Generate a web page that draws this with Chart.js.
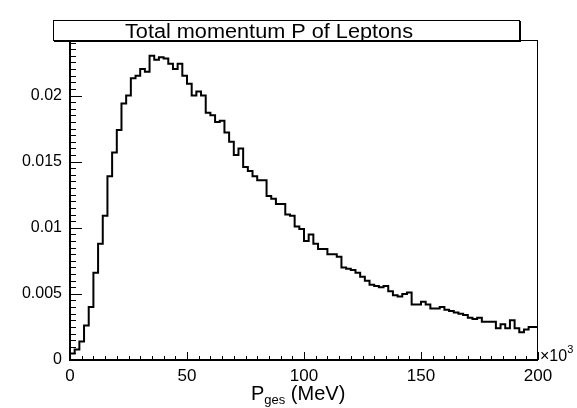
<!DOCTYPE html>
<html>
<head>
<meta charset="utf-8">
<script src="https://cdn.jsdelivr.net/npm/chart.js@4/dist/chart.umd.min.js"></script>
<style>
  body { margin: 0; background: #fff; }
  #wrap { width: 577px; height: 408px; }
</style>
</head>
<body>
<div id="wrap"><canvas id="histChart" width="577" height="408"></canvas></div>
<script>
// histogram of total lepton momentum, 100 bins from 0 to 200 (x10^3 MeV)
const binWidth = 2;
const counts = [
  0.0005, 0.0008, 0.0014, 0.0026, 0.0040, 0.0066, 0.0088, 0.0109, 0.0139, 0.0157,
  0.0174, 0.0194, 0.0200, 0.0213, 0.0215, 0.0220, 0.0218, 0.0230, 0.0227, 0.0229,
  0.0228, 0.0224, 0.0220, 0.0224, 0.0215, 0.0209, 0.0200, 0.0203, 0.0200, 0.0187,
  0.0185, 0.0180, 0.0181, 0.0172, 0.0165, 0.0155, 0.0160, 0.0146, 0.0143, 0.0139,
  0.0136, 0.0136, 0.0124, 0.0122, 0.0118, 0.0118, 0.0110, 0.0109, 0.0101, 0.0099,
  0.0090, 0.0095, 0.0088, 0.0084, 0.0084, 0.0080, 0.0080, 0.0078, 0.0070, 0.0069,
  0.0068, 0.0066, 0.0063, 0.0060, 0.0057, 0.0056, 0.0055, 0.0056, 0.0052, 0.0049,
  0.0048, 0.0050, 0.0051, 0.0042, 0.0042, 0.0044, 0.0042, 0.0039, 0.0039, 0.0040,
  0.0038, 0.0037, 0.0036, 0.0035, 0.0034, 0.0032, 0.0031, 0.0032, 0.0029, 0.0029,
  0.0029, 0.0024, 0.0027, 0.0024, 0.0030, 0.0024, 0.0021, 0.0023, 0.0025, 0.0025
];
const xTicks = [0, 50, 100, 150, 200];
const yTicks = [0, 0.005, 0.01, 0.015, 0.02];
const xMin = 0, xMax = 200;
const yMin = 0, yMax = 0.0242;
const titleText = 'Total momentum P of Leptons';

const FONT = '"Liberation Sans", Arial, Helvetica, sans-serif';

// step points at bin left edges, plus closing point at the right edge
var points = counts.map((v, i) => ({ x: i * binWidth, y: v }));
points.push({ x: counts.length * binWidth, y: counts[counts.length - 1] });

const rootStyle = {
    id: 'rootStyle',
    afterDraw(chart) {
        const ctx = chart.ctx;
        const a = chart.chartArea;
        const xs = chart.scales.x;
        const ys = chart.scales.y;
        ctx.save();
        ctx.strokeStyle = '#000';

        // frame
        ctx.lineWidth = 1;
        ctx.strokeRect(a.left + 0.5, a.top + 0.5, a.right - a.left - 1, a.bottom - a.top);
        ctx.lineWidth = 2;
        ctx.beginPath();
        ctx.moveTo(a.left, a.top);
        ctx.lineTo(a.left, a.bottom);
        ctx.lineTo(a.right, a.bottom);
        ctx.stroke();

        // inward ticks
        ctx.lineWidth = 1;
        ctx.beginPath();
        for (let v = xMin; v <= xMax + 1e-9; v += 5) {
            const px = Math.round(xs.getPixelForValue(v)) + 0.5;
            const len = (Math.abs(v % 50) < 1e-9) ? 8 : 4;
            ctx.moveTo(px, a.bottom);
            ctx.lineTo(px, a.bottom - len);
        }
        for (let i = 0; i * 0.0005 <= yMax; i++) {
            const py = Math.round(ys.getPixelForValue(i * 0.0005)) + 0.5;
            const len = (i % 10 === 0) ? 12 : 6;
            ctx.moveTo(a.left, py);
            ctx.lineTo(a.left + len, py);
        }
        ctx.stroke();

        // title box
        const bx = 53, by = 20, bw = 467, bh = 21;
        ctx.fillStyle = '#000';
        ctx.fillRect(bx + 1, by + 1, bw, bh);
        ctx.fillStyle = '#fff';
        ctx.fillRect(bx, by, bw, bh);
        ctx.strokeRect(bx + 0.5, by + 0.5, bw - 1, bh - 1);
        ctx.fillStyle = '#000';
        ctx.font = '20px ' + FONT;
        ctx.textAlign = 'center';
        ctx.textBaseline = 'alphabetic';
        const tw = ctx.measureText(titleText).width;
        const sx = 288 / tw;
        ctx.save();
        ctx.translate(269, by + 17.5);
        ctx.scale(sx, 1);
        ctx.fillText(titleText, 0, 0);
        ctx.restore();

        // x axis title with subscript
        ctx.textAlign = 'left';
        ctx.font = '20px ' + FONT;
        let tx = 251, ty = 400;
        ctx.fillText('P', tx, ty);
        tx += ctx.measureText('P').width;
        ctx.font = '13px ' + FONT;
        ctx.fillText('ges', tx, ty + 4);
        tx += ctx.measureText('ges').width;
        ctx.font = '20px ' + FONT;
        ctx.fillText(' (MeV)', tx, ty);

        // exponent label
        ctx.font = '16px ' + FONT;
        ctx.fillText('\u00d710', a.right + 2, a.bottom + 1);
        const w = ctx.measureText('\u00d710').width;
        ctx.font = '11px ' + FONT;
        ctx.fillText('3', a.right + 2 + w, a.bottom - 7);

        ctx.restore();
    }
};

const ctx = document.getElementById('histChart').getContext('2d');
window.chart = new Chart(ctx, {
    type: 'line',
    data: {
        datasets: [{
            data: points,
            stepped: 'before',
            borderColor: '#000',
            borderWidth: 2,
            pointRadius: 0,
            fill: false,
            clip: 2
        }]
    },
    options: {
        responsive: false,
        animation: false,
        layout: { padding: { top: 40, right: 39, left: 0, bottom: 0 } },
        plugins: {
            legend: { display: false },
            tooltip: { enabled: false },
            title: { display: false }
        },
        scales: {
            x: {
                type: 'linear',
                min: xMin,
                max: xMax,
                afterBuildTicks: s => { s.ticks = xTicks.map(v => ({ value: v })); },
                afterFit: s => { s.height = 48; },
                grid: { display: false, drawTicks: false },
                border: { display: false },
                ticks: {
                    autoSkip: false,
                    maxRotation: 0,
                    padding: 6,
                    color: '#000',
                    font: { family: FONT, size: 17 },
                    callback: v => String(v)
                }
            },
            y: {
                type: 'linear',
                min: yMin,
                max: yMax,
                afterBuildTicks: s => { s.ticks = yTicks.map(v => ({ value: v })); },
                afterFit: s => { s.width = 70; },
                grid: { display: false, drawTicks: false },
                border: { display: false },
                ticks: {
                    autoSkip: false,
                    padding: 8,
                    color: '#000',
                    font: { family: FONT, size: 16 },
                    callback: v => String(v)
                }
            }
        }
    },
    plugins: [rootStyle]
});
</script>
</body>
</html>
